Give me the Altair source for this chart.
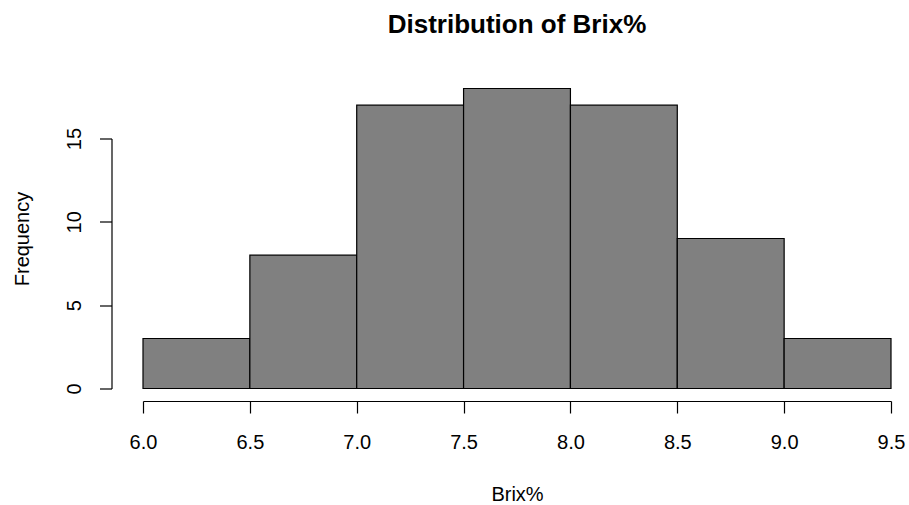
import altair as alt
import pandas as pd

# Histogram of Brix% readings: bin edges and counts
bin_start = [6.0, 6.5, 7.0, 7.5, 8.0, 8.5, 9.0]
bin_end = [6.5, 7.0, 7.5, 8.0, 8.5, 9.0, 9.5]
counts = [3, 8, 17, 18, 17, 9, 3]

x_ticks = [6.0, 6.5, 7.0, 7.5, 8.0, 8.5, 9.0, 9.5]
y_ticks = [0, 5, 10, 15]

df = pd.DataFrame({"start": bin_start, "end": bin_end, "count": counts})

FONT = "Liberation Sans"

bars = alt.Chart(df).mark_rect(
    fill="#808080", stroke="black", strokeWidth=1.2, clip=False
).encode(
    x=alt.X(
        "start:Q",
        scale=alt.Scale(domain=[6.0, 9.5], nice=False, zero=False),
        axis=alt.Axis(
            title="Brix%",
            values=x_ticks,
            format=".1f",
            grid=False,
            offset=12.5,
            tickSize=12,
            tickColor="black",
            domainColor="black",
            tickWidth=1.2,
            domainWidth=1.2,
            labelFont=FONT,
            labelFontSize=20,
            labelColor="black",
            labelBaseline="alphabetic",
            labelPadding=35,
            labelFlush=False,
            titleFont=FONT,
            titleFontSize=20,
            titleFontWeight="normal",
            titleColor="black",
            titleBaseline="alphabetic",
            titleY=99,
        ),
    ),
    x2="end:Q",
    y=alt.Y(
        "count:Q",
        scale=alt.Scale(domain=[0, 15], nice=False),
        axis=alt.Axis(
            title="Frequency",
            values=y_ticks,
            grid=False,
            offset=31.5,
            tickSize=12,
            tickColor="black",
            domainColor="black",
            tickWidth=1.2,
            domainWidth=1.2,
            labelFont=FONT,
            labelFontSize=20,
            labelColor="black",
            labelAngle=270,
            labelAlign="center",
            labelBaseline="alphabetic",
            labelPadding=19,
            labelFlush=False,
            titleFont=FONT,
            titleFontSize=20,
            titleFontWeight="normal",
            titleColor="black",
            titleAngle=270,
            titleAlign="center",
            titleBaseline="alphabetic",
            titleX=-83.5,
            titleY=100,
        ),
    ),
    y2=alt.datum(0),
)

chart = bars.properties(
    width=748,
    height=250,
    background="white",
    autosize=alt.AutoSizeParams(type="none"),
    padding={"left": 143, "top": 138.5, "right": 18, "bottom": 116.5},
    title=alt.TitleParams(
        "Distribution of Brix%",
        font=FONT,
        fontSize=26,
        fontWeight="bold",
        color="black",
        anchor="middle",
        frame="group",
        baseline="alphabetic",
        offset=29,
    ),
).configure_view(strokeWidth=0, stroke="transparent")

chart.save("out.html", embed_options={"renderer": "svg", "actions": False})
